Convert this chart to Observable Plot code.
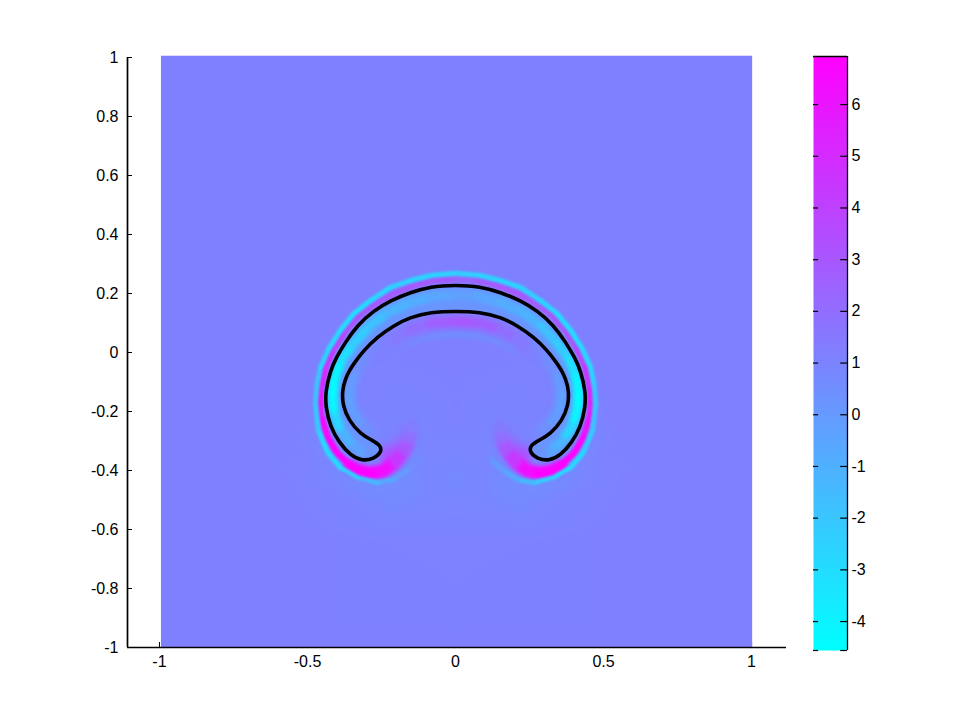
<!DOCTYPE html>
<html>
<head>
<meta charset="utf-8">
<script src="https://cdn.jsdelivr.net/npm/d3@7"></script>
<script src="https://cdn.jsdelivr.net/npm/@observablehq/plot@0.6"></script>
<style>
html,body{margin:0;padding:0;background:#fff;}
#chart{display:flex;width:968px;height:726px;}
svg{display:block;}
</style>
</head>
<body>
<div id="chart"></div>
<script>
// Colour range
const colorMin = -4.56, colorMax = 6.93;
const colorbarTicks = [-4,-3,-2,-1,0,1,2,3,4,5,6];
const xTicks = [-1,-0.5,0,0.5,1];
const yTicks = [-1,-0.8,-0.6,-0.4,-0.2,0,0.2,0.4,0.6,0.8,1];

// Interface curve, left half [x, y]
const interfaceLeft = [
 [0,.229],[-.084,.224],[-.152,.204],[-.220,.176],[-.276,.142],[-.332,.092],[-.372,.035],[-.405,-.021],
 [-.422,-.061],[-.439,-.129],[-.439,-.185],[-.422,-.253],[-.394,-.304],[-.355,-.349],[-.315,-.368],
 [-.276,-.360],[-.250,-.338],[-.253,-.315],[-.281,-.298],[-.321,-.276],[-.360,-.231],[-.381,-.180],
 [-.383,-.129],[-.372,-.089],[-.358,-.061],[-.344,-.038],[-.310,.007],[-.265,.052],[-.208,.092],
 [-.152,.120],[-.084,.137],[0,.140]
];
// Field values, [x, y, value], left half starting on the axis of symmetry
const cyanRing = [
 [0,.269,-2.4],[-.08,.262,-2.6],[-.152,.244,-2.7],[-.22,.221,-2.5],[-.287,.176,-2.8],[-.344,.131,-3.1],[-.389,.075,-3.1],
 [-.428,.013,-2.9],[-.456,-.05,-2.6],[-.468,-.11,-2.0],[-.473,-.173,-1.8],[-.463,-.264,-2.2],[-.432,-.339,-3.0],[-.389,-.39,-3.0],
 [-.331,-.424,-2.4],[-.264,-.441,-1.5],[-.209,-.431,-.7],[-.162,-.400,-.1],[-.115,-.36,.6]
];
const magentaBand = [
 [0,.248,2.3],[-.08,.243,2.8],[-.152,.224,2.9],[-.243,.183,2.8],[-.321,.132,3.0],[-.372,.075,3.2],[-.412,.013,3.8],[-.439,-.05,4.6],
 [-.456,-.129,5.3],[-.456,-.207,5.8],[-.432,-.288,6.6],[-.399,-.342,6.9],[-.355,-.383,6.9]
];
const magentaCap = [
 [-.355,-.388,6.9],[-.33,-.4,6.9],[-.29,-.41,6.9],[-.245,-.402,6.3],[-.2,-.368,4.4],[-.17,-.325,3.0],[-.155,-.285,1.9],[-.15,-.25,1.3]
];
const tailGlow = [[-.23,-.35,3.5],[-.19,-.32,2.2],[-.17,-.28,1.4]];
const tubeStrip = [
 [0,.195,-.3],[-.08,.19,-.6],[-.152,.17,-.9],[-.23,.135,-1.2],[-.29,.09,-1.8],[-.345,.03,-2.4],[-.385,-.025,-3.2],[-.408,-.085,-4.2],
 [-.415,-.139,-4.6],[-.412,-.19,-4.2],[-.395,-.25,-2.8],[-.36,-.3,-1.2],[-.32,-.335,-.4]
];
const innerPale = [[0,.06,.5],[-.08,.055,.5],[-.16,.03,.7],[-.2,0,1.0]];
const innerGlow = [[0,.105,3.0],[-.08,.1,2.7],[-.152,.078,2.0],[-.208,.045,1.5],[-.26,0,1.15]];
const innerBlue = [[-.27,.03,.8],[-.31,-.02,.4],[-.345,-.08,-.2],[-.36,-.15,-.5],[-.345,-.21,-.3],[-.31,-.25,.3],[-.27,-.278,.9]];
// Slowly varying surroundings
const outerHalo = [
 [0,.288,1.15],[-.158,.263,1.15],[-.298,.191,1.15],[-.403,.087,1.15],[-.472,-.045,1.15],[-.492,-.173,1.1],[-.482,-.27,1.0],[-.448,-.352,.9],
 [-.4,-.41,.8],[-.34,-.445,.7],[-.264,-.47,.6],[-.2,-.46,.6],[-.145,-.42,.7],[-.095,-.37,.9]
];
const wideHalo = [
 [0,.33,1.15],[-.2,.3,1.15],[-.4,.16,1.15],[-.52,-.05,1.15],[-.55,-.25,1.15],[-.48,-.45,1.05],[-.3,-.53,.95],[-.1,-.5,.85]
];
const farField = [
 [-1,1,1.15],[-1,-1,1.15],[-1,0,1.15],[-.5,1,1.15],[0,1,1.15],[0,-1,1.15],[-.5,-1,1.15],[-.7,-.3,1.15],[-.6,.2,1.15],
 [0,.6,1.15],[0,-.05,1.15],[0,-.2,1.1],[-.1,-.2,1.0],[0,-.42,.75],[0,-.62,1.06],[-.25,-.65,1.1],[-.5,-.62,1.15]
];

const mirrored = a => a.filter(d => d[0] !== 0).map(d => [-d[0], d[1], d[2]]);
const acrossAxis = a => a.slice().reverse().concat(mirrored(a));
const bothSides = a => [a, mirrored(a)];
const surroundings = [...outerHalo, ...wideHalo, ...farField];
const field = surroundings.concat(mirrored(surroundings));
const loop = interfaceLeft.concat(interfaceLeft.slice(1, -1).reverse().map(d => [-d[0], d[1]]));

const colorScale = {type:"linear", domain:[colorMin, colorMax], range:["#00ffff","#ff00ff"], interpolate:"rgb"};
const font = "'Liberation Sans', Arial, sans-serif";
const fmt = d => String(d);
const band = (data, width, blur) => Plot.line(data,{
  x:d=>d[0], y:d=>d[1], z:null, stroke:d=>d[2], strokeWidth:width, strokeLinecap:"round", strokeLinejoin:"round", imageFilter:`blur(${blur}px)`
});

const main = Plot.plot({
  width:800, height:726, marginLeft:127, marginRight:14, marginTop:57, marginBottom:79,
  style:{fontFamily:font, fontSize:"16px", color:"#000", background:"transparent"},
  x:{domain:[-1.108,1.118], label:null},
  y:{domain:[-1,1], label:null},
  color:colorScale,
  marks:[
    Plot.axisX(xTicks,{anchor:"bottom", tickSize:-5, tickPadding:13, tickFormat:fmt, label:null, stroke:"#000", fontSize:16}),
    Plot.axisY(yTicks,{anchor:"left", tickSize:-5, tickPadding:14, tickFormat:fmt, label:null, stroke:"#000", fontSize:16}),
    Plot.raster(field,{x:d=>d[0], y:d=>d[1], fill:d=>d[2], x1:-.995, x2:1.002, y1:-1, y2:1.006, interpolate:"barycentric", pixelSize:1}),
    Plot.ruleX([-1.108],{y1:-1, y2:1, stroke:"#000", strokeWidth:1.7}),
    Plot.ruleY([-1],{x1:-1.108, x2:1.118, stroke:"#000", strokeWidth:1.5}),
    band(acrossAxis(innerPale), 5, 2),
    band(acrossAxis(innerGlow), 11, 2.5),
    ...bothSides(innerBlue).map(a => band(a, 10, 3)),
    ...bothSides(tailGlow).map(a => band(a, 16, 4)),
    band(acrossAxis(magentaBand), 6.5, 1.2),
    ...bothSides(magentaCap).map(a => band(a, 14, 2.2)),
    band(acrossAxis(cyanRing), 5, 0.9),
    Plot.line(loop,{x:d=>d[0], y:d=>d[1], curve:"basis-closed", fill:"#6b94ff", stroke:"none"}),
    band(acrossAxis(tubeStrip), 10, 2.2),
    Plot.line(loop,{x:d=>d[0], y:d=>d[1], curve:"basis-closed", stroke:"#000", strokeWidth:3.6})
  ]
});

const bar = Plot.plot({
  width:168, height:726, marginLeft:13, marginRight:121, marginTop:56, marginBottom:76,
  style:{fontFamily:font, fontSize:"16px", color:"#000", background:"transparent"},
  x:{domain:[0,1], axis:null},
  y:{domain:[colorMin,colorMax], label:null, axis:null},
  color:colorScale,
  marks:[
    Plot.raster({fill:(x,y)=>y, x1:0, x2:1, y1:colorMin, y2:colorMax, pixelSize:1}),
    Plot.ruleX([1],{y1:colorMin, y2:colorMax, stroke:"#000", strokeWidth:1.3}),
    Plot.ruleY([colorMax],{x1:0, x2:1, stroke:"#000", strokeWidth:1.3}),
    Plot.ruleY([colorMin,...colorbarTicks],{x1:0, x2:.15, stroke:"#000", strokeWidth:1.2}),
    Plot.ruleY([colorMin,...colorbarTicks],{x1:.8, x2:1, stroke:"#000", strokeWidth:1.2}),
    Plot.axisY(colorbarTicks,{anchor:"right", tickSize:0, tickPadding:4, tickFormat:fmt, label:null, fontSize:16})
  ]
});

document.getElementById("chart").append(main, bar);
</script>
</body>
</html>
